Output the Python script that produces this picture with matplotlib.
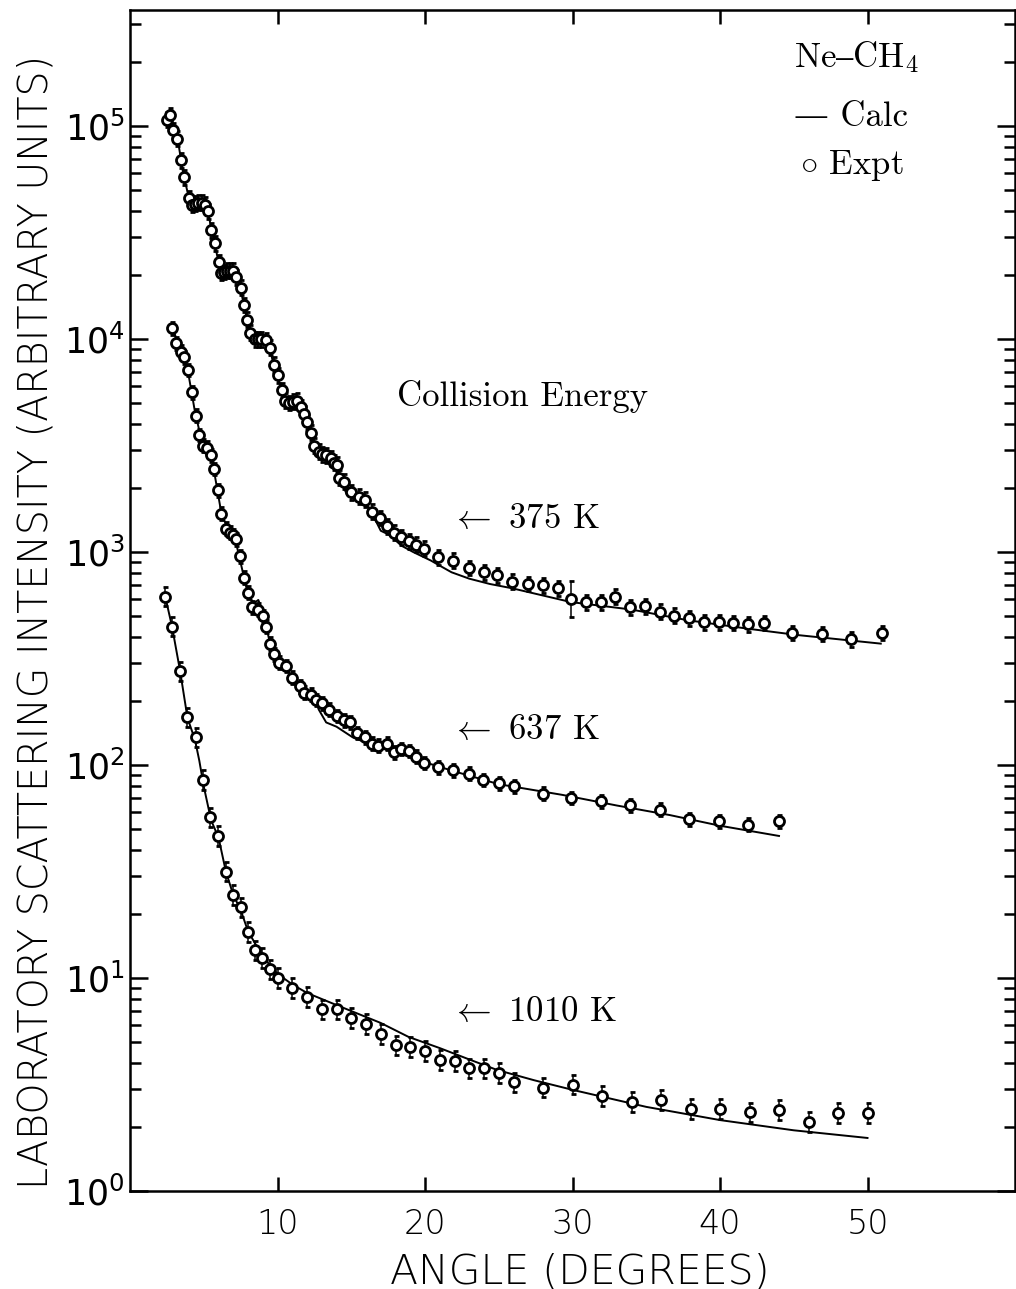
import matplotlib
matplotlib.use('Agg')
import matplotlib.pyplot as plt
import numpy as np
from matplotlib.ticker import LogLocator, NullFormatter, FixedLocator

# ---- data (angle in degrees, log10 of intensity) ----
# 375 K
ang_375 = [2.5, 2.7, 2.93, 3.2, 3.45, 3.66, 4.0, 4.2, 4.4, 4.6, 4.85, 5.07, 5.26, 5.47, 5.74,
           6.0, 6.2, 6.4, 6.6, 6.8, 7.0, 7.2, 7.5, 7.7, 7.9, 8.15, 8.45, 8.7, 8.9, 9.2, 9.46,
           9.73, 10.0, 10.3, 10.5, 10.8, 11.05, 11.3, 11.6, 11.8, 12.0, 12.3, 12.5, 12.8, 13.05,
           13.3, 13.6, 13.85, 14.0, 14.2, 14.5, 15.0, 15.5, 15.9, 16.4, 16.95, 17.4, 17.9, 18.4,
           18.9, 19.4, 19.9, 20.9, 21.9, 23.0, 24.0, 24.9, 25.9, 27.0, 28.0, 29.0, 29.9, 30.9,
           31.9, 32.9, 33.9, 34.9, 35.9, 36.9, 37.9, 38.9, 39.9, 40.9, 41.9, 43.0, 44.9, 46.9,
           48.9, 51.0]
lg_375 = [5.03, 5.05, 4.98, 4.94, 4.84, 4.76, 4.66, 4.63, 4.635, 4.64, 4.64, 4.63, 4.60, 4.51, 4.45,
          4.36, 4.31, 4.315, 4.32, 4.32, 4.32, 4.29, 4.24, 4.16, 4.09, 4.03, 4.0, 4.0, 4.0, 3.995, 3.96,
          3.88, 3.83, 3.76, 3.71, 3.70, 3.705, 3.71, 3.68, 3.65, 3.61, 3.56, 3.50, 3.47, 3.46,
          3.455, 3.44, 3.42, 3.41, 3.35, 3.33, 3.28, 3.26, 3.245, 3.19, 3.16, 3.12, 3.09, 3.07,
          3.05, 3.035, 3.015, 2.975, 2.96, 2.925, 2.905, 2.89, 2.86, 2.85, 2.845, 2.83, 2.78, 2.765,
          2.765, 2.79, 2.74, 2.745, 2.72, 2.70, 2.69, 2.67, 2.67, 2.667, 2.66, 2.667, 2.62, 2.615,
          2.59, 2.62]
err_375 = 0.035          # half-width of error bars, decades
err_375_30deg = 0.085    # the one long bar at ~30 deg

calc_ang_375 = [2.5, 2.75, 3.0, 3.3, 3.6, 4.0, 4.3, 4.7, 5.0, 5.3, 5.7, 6.1, 6.5, 6.9, 7.2, 7.6,
                8.0, 8.4, 8.8, 9.1, 9.4, 9.8, 10.3, 10.7, 11.2, 11.5, 12.0, 12.5, 12.9, 13.4, 13.8,
                14.2, 14.7, 15.5, 16.2, 17.0, 17.6, 18.4, 19.2, 19.8, 20.4, 20.9, 21.8, 23.0, 24.4,
                25.9, 29.9, 34.0, 37.8, 41.9, 45.3, 50.9]
calc_lg_375 = [5.03, 5.05, 4.98, 4.91, 4.78, 4.66, 4.63, 4.655, 4.645, 4.59, 4.46, 4.33, 4.33, 4.34,
               4.30, 4.20, 4.07, 4.005, 4.0, 4.02, 3.98, 3.86, 3.76, 3.705, 3.72, 3.70, 3.61, 3.50,
               3.47, 3.47, 3.43, 3.35, 3.27, 3.235, 3.21, 3.10, 3.08, 3.03, 3.0, 2.98, 2.96, 2.94,
               2.905, 2.875, 2.85, 2.83, 2.765, 2.73, 2.68, 2.64, 2.61, 2.57]

# 637 K
ang_637 = [2.88, 3.15, 3.43, 3.65, 3.93, 4.17, 4.46, 4.68, 4.95, 5.2, 5.47, 5.68, 5.96, 6.2, 6.5,
           6.76, 7.0, 7.16, 7.43, 7.7, 7.97, 8.3, 8.65, 9.0, 9.2, 9.46, 9.73, 10.1, 10.6, 11.0,
           11.5, 11.8, 12.3, 12.6, 13.0, 13.5, 14.0, 14.5, 14.9, 15.4, 15.9, 16.4, 16.8, 17.4,
           17.9, 18.4, 18.9, 19.4, 19.9, 20.9, 21.9, 23.0, 23.9, 25.0, 26.0, 28.0, 29.9, 31.9,
           33.9, 35.9, 37.9, 39.9, 41.9, 44.0]
lg_637 = [4.05, 3.98, 3.94, 3.915, 3.855, 3.75, 3.64, 3.55, 3.50, 3.49, 3.455, 3.39, 3.29, 3.18, 3.11,
          3.09, 3.08, 3.06, 2.98, 2.88, 2.81, 2.74, 2.73, 2.70, 2.65, 2.57, 2.52, 2.48, 2.465, 2.41,
          2.37, 2.34, 2.33, 2.305, 2.29, 2.26, 2.23, 2.21, 2.20, 2.15, 2.13, 2.10, 2.09, 2.10,
          2.06, 2.075, 2.066, 2.04, 2.01, 1.99, 1.975, 1.96, 1.93, 1.915, 1.90, 1.865, 1.845, 1.83,
          1.81, 1.79, 1.745, 1.735, 1.72, 1.735]
err_637 = 0.03

calc_ang_637 = [2.9, 3.4, 3.9, 4.4, 4.9, 5.3, 5.6, 6.2, 6.7, 7.1, 7.6, 8.0, 8.4, 8.7, 9.0, 9.5,
                10.0, 10.5, 11.0, 11.8, 12.4, 12.8, 13.3, 14.0, 15.1, 16.2, 17.0, 18.5, 19.9,
                22.0, 25.0, 29.3, 33.0, 36.6, 40.0, 44.0]
calc_lg_637 = [4.05, 3.95, 3.86, 3.66, 3.51, 3.50, 3.42, 3.18, 3.10, 3.07, 2.92, 2.80, 2.76, 2.775,
               2.72, 2.57, 2.49, 2.47, 2.41, 2.35, 2.33, 2.26, 2.20, 2.18, 2.13, 2.10, 2.08, 2.05,
               2.015, 1.97, 1.91, 1.86, 1.81, 1.765, 1.715, 1.667]

# 1010 K
ang_1010 = [2.36, 2.85, 3.38, 3.86, 4.45, 4.93, 5.4, 5.95, 6.5, 7.0, 7.5, 8.0, 8.5, 8.95, 9.46,
            10.0, 11.0, 12.0, 13.0, 14.0, 15.0, 16.0, 17.0, 18.0, 19.0, 20.0, 21.0, 22.0, 23.0,
            24.0, 25.0, 26.0, 28.0, 30.0, 32.0, 34.0, 36.0, 38.0, 40.0, 42.0, 44.0, 46.0, 48.0, 50.0]
lg_1010 = [2.79, 2.65, 2.44, 2.225, 2.13, 1.93, 1.755, 1.667, 1.50, 1.39, 1.333, 1.216, 1.13, 1.094,
           1.04, 1.0, 0.953, 0.911, 0.854, 0.854, 0.812, 0.784, 0.737, 0.685, 0.676, 0.657, 0.615,
           0.61, 0.577, 0.577, 0.554, 0.51, 0.485, 0.50, 0.446, 0.418, 0.427, 0.385, 0.385, 0.37,
           0.38, 0.324, 0.366, 0.366]
err_1010 = 0.045

calc_ang_1010 = [2.36, 2.85, 3.4, 3.9, 4.4, 4.7, 5.0, 5.5, 6.0, 6.5, 7.0, 7.5, 8.0, 9.0, 10.0, 11.0,
                 12.0, 14.0, 17.0, 18.9, 21.0, 23.1, 24.9, 27.4, 30.0, 35.0, 40.0, 45.0, 50.0]
calc_lg_1010 = [2.80, 2.65, 2.44, 2.22, 2.12, 2.02, 1.90, 1.74, 1.66, 1.50, 1.39, 1.32, 1.22, 1.10,
                1.02, 0.97, 0.93, 0.873, 0.789, 0.723, 0.671, 0.615, 0.568, 0.52, 0.475, 0.395,
                0.333, 0.285, 0.249]

x_ticks = [10, 20, 30, 40, 50]
y_decades = [0, 1, 2, 3, 4, 5]

# ---- figure ----
fig = plt.figure(figsize=(10.16, 12.89), dpi=100)
W, H = 1016, 1289
ax = fig.add_axes([130 / W, (H - 1191) / H, (1015 - 130) / W, (1191 - 10) / H])

ax.set_yscale('log')
ax.set_xlim(0, 60)
ax.set_ylim(1, 10 ** 5.545)

mk = dict(fmt='o', ms=7.2, mfc='white', mec='black', mew=2.0, ecolor='black',
          elinewidth=1.1, capsize=1.8, capthick=1.1, zorder=3)


def plot_set(ang, lg, err, cang, clg):
    y = 10 ** np.asarray(lg)
    e = np.asarray(err) * np.ones_like(y)
    lo = y - y * 10 ** (-e)
    hi = y * 10 ** e - y
    ax.plot(cang, 10 ** np.asarray(clg), color='black', lw=1.4, zorder=2)
    ax.errorbar(ang, y, yerr=[lo, hi], **mk)


e375 = [err_375_30deg if a == 29.9 else err_375 for a in ang_375]
plot_set(ang_375, lg_375, e375, calc_ang_375, calc_lg_375)
plot_set(ang_637, lg_637, err_637, calc_ang_637, calc_lg_637)
plot_set(ang_1010, lg_1010, err_1010, calc_ang_1010, calc_lg_1010)

# ---- axes styling ----
for s in ax.spines.values():
    s.set_linewidth(1.8)

ax.xaxis.set_major_locator(FixedLocator(x_ticks))
ax.set_xticklabels([str(t) for t in x_ticks])
ax.set_yticks([10.0 ** d for d in y_decades])
ax.set_yticklabels([r'$10^{%d}$' % d for d in y_decades])
ax.yaxis.set_minor_locator(LogLocator(base=10, subs=np.arange(2, 10), numticks=20))
ax.yaxis.set_minor_formatter(NullFormatter())

ax.tick_params(axis='both', which='both', direction='in', top=True, right=True, width=1.8)
ax.tick_params(axis='x', which='major', length=10, pad=12, labelsize=24)
ax.tick_params(axis='y', which='major', length=13, pad=4, labelsize=25)
ax.tick_params(axis='y', which='minor', length=8)
for lab in ax.get_xticklabels() + ax.get_yticklabels():
    lab.set_fontfamily('DejaVu Sans')
    lab.set_fontweight('light')

ax.set_xlabel('ANGLE (DEGREES)', fontsize=29.5, fontweight='light')
ax.xaxis.set_label_coords(0.508, -0.052)
ax.set_ylabel('LABORATORY SCATTERING INTENSITY (ARBITRARY UNITS)', fontsize=28.5,
              fontweight='light')
ax.yaxis.set_label_coords(-0.084, 0.482)

# ---- annotations (serif, Computer Modern look) ----
serif = dict(family=['cmr10', 'DejaVu Serif'], math_fontfamily='cm', fontsize=25, color='black')

ax.text(45.0, 2.11e5, r'Ne$–$CH$_4$', va='center', ha='left', **serif)
ax.text(45.0, 1.1e5, '— Calc', va='center', ha='left', **serif)
ax.text(45.4, 6.5e4, r'$\circ$ Expt', va='center', ha='left', **serif)
ax.text(26.6, 5.4e3, 'Collision Energy', va='center', ha='center', **serif)
ax.text(21.7, 1.42e3, r'$\leftarrow$ 375 K', va='center', ha='left', **serif)
ax.text(21.7, 1.45e2, r'$\leftarrow$ 637 K', va='center', ha='left', **serif)
ax.text(21.7, 6.9, r'$\leftarrow$ 1010 K', va='center', ha='left', **serif)

fig.savefig('out.png', dpi=100)
